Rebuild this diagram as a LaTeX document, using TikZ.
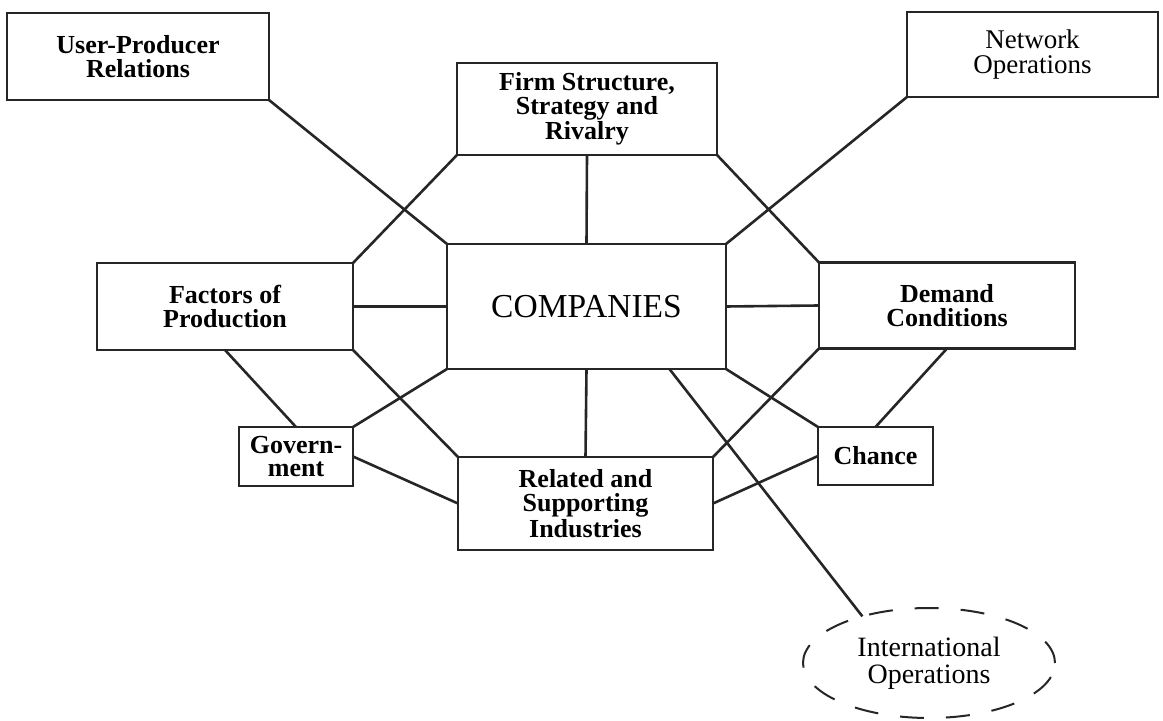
\documentclass[tikz,border=0pt]{standalone}
\usepackage{fontspec}
\setmainfont{Liberation Serif}[BoldFont={Liberation Serif Bold}]
\usepackage{tikz}
\usetikzlibrary{shapes, positioning}
\tikzset{>=latex}
\usepackage{xcolor}
\colorlet{myline}{black!85}
\tikzstyle{factor}=[draw=myline,line width=1.4pt,rectangle,inner sep=0,outer sep=0,align=center,font=\fontsize{13}{11.8}\selectfont\bfseries]
\tikzstyle{extra}=[factor,font=\fontsize{13.5}{12.5}\selectfont]
\tikzstyle{link}=[draw=myline,line width=1.3pt]

\begin{document}
\begin{tikzpicture}[x=0.5pt,y=-0.5pt]
		\useasboundingbox (0,0) rectangle (1163,721);
		\node[factor, minimum width=131pt, minimum height=43.5pt] (user) at (138,56.5) {User-Producer\\Relations};
		\node[factor, minimum width=130pt, minimum height=46pt] (firm) at (587,109) {Firm Structure,\\Strategy and\\Rivalry};
		\node[extra, minimum width=125.5pt, minimum height=42.5pt] (network) at (1032.5,54.5) {Network\\Operations};
		
		\node[factor, minimum width=128pt, minimum height=43.5pt] (factors) at (225,306.5) {Factors of\\Production};
		\node[factor, minimum width=139.5pt, minimum height=62.5pt, font=\fontsize{16.75}{18}\selectfont] (comp) at (586.5,306.5) {COMPANIES};
		\node[factor, minimum width=128pt, minimum height=43pt] (demand) at (947,305.5) {Demand\\Conditions};
		
		\node[factor, minimum width=57pt, minimum height=29.5pt] (gov) at (296,456.5) {Govern-\\ment};
		\node[factor, minimum width=127.5pt, minimum height=46.5pt] (related) at (585.5,503.5) {Related and\\Supporting\\Industries};
		\node[factor, minimum width=57.5pt, minimum height=29pt] (chance) at (875.5,456) {Chance};
		
		\node[shape=ellipse, draw=myline, line width=1pt, dash pattern=on 12pt off 11pt, inner sep=0, outer sep=0, minimum width=126pt, minimum height=55pt, align=center, font=\fontsize{14}{13.5}\selectfont] (intl) at (929,663) {International\\Operations};
		
		\path[link] (user.south east) -- (comp.north west);
		\path[link] (firm.south west) -- (factors.north east);
		\path[link] (firm.south) -- (comp.north);
		\path[link] (firm.south east) -- (demand.north west);
		\path[link] (network.south west) -- (comp.north east);
		\path[link] (factors.east) -- (comp.west);
		\path[link] (comp.east) -- (demand.west);
		\path[link] (factors.south) -- (gov.north);
		\path[link] (factors.south east) -- (related.north west);
		\path[link] (comp.south west) -- (gov.north east);
		\path[link] (comp.south) -- (related.north);
		\path[link] (comp.south east) -- (chance.north west);
		\path[link] (demand.south west) -- (related.north east);
		\path[link] (demand.south) -- (chance.north);
		\path[link] (gov.east) -- (related.west);
		\path[link] (chance.west) -- (related.east);
		\path[link] (comp.-37) -- (intl.145);
	\end{tikzpicture}
\end{document}
